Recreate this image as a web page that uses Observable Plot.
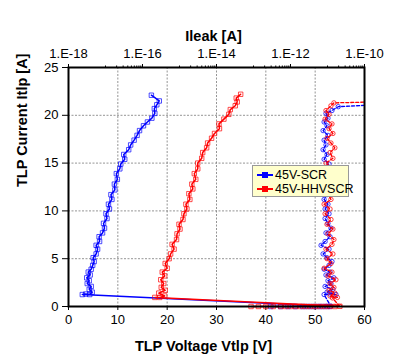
<!DOCTYPE html>
<html>
<head>
<meta charset="utf-8">
<script src="https://cdn.jsdelivr.net/npm/d3@7"></script>
<script src="https://cdn.jsdelivr.net/npm/@observablehq/plot@0.6"></script>
<style>
  html, body { margin: 0; padding: 0; background: #fff; }
  #wrap { position: relative; width: 400px; height: 359px; font-family: Arial, "Liberation Sans", sans-serif; }
  #legend { position: absolute; left: 252px; top: 165px; width: 97px; height: 32px; background: #ffffcc; border: 1px solid #999; box-sizing: border-box; font-size: 12.5px; }
  #legend .row { position: absolute; left: 3px; height: 14px; line-height: 14px; display: flex; align-items: center; white-space: nowrap; }
  #legend svg { margin-right: 1px; flex: none; }
</style>
</head>
<body>
<div id="wrap"></div>
<script>
// ---- data ----
const seriesNames = ["45V-SCR", "45V-HHVSCR"];
const seriesColors = ["#0000ff", "#ff0000"];

// TLP curves: [Vtlp (V), Itlp (A)]
const scrTLP = [
  [41,0],[43,0],[44.5,0],[46,0],[47.5,0],[48.5,0],[49.5,0],[50.5,0],[51.5,0],[52.5,0],[53,0.02],
  [2.8,1.25],[3.5,1.3],[4.3,1.25],[4.8,1.5],[4.2,1.8],[4.6,2.1],[3.8,2.4],[4.2,2.7],[3.7,3.0],
  [4.4,3.3],[4.0,3.6],[4.6,3.9],[4.9,4.3],[5.2,4.7],[5.0,5.1],[5.6,5.5],[5.9,6.0],[5.6,6.4],
  [6.3,6.8],[6.2,7.3],[6.9,7.7],[7.3,8.2],[7.1,8.7],[7.8,9.2],[7.6,9.7],[8.3,10.2],[8.1,10.7],
  [8.8,11.2],[8.6,11.7],[9.4,12.2],[9.3,12.8],[9.9,13.3],[9.7,13.9],[10.4,14.4],[10.6,14.9],
  [11.4,15.4],[11.2,15.9],[12.2,16.4],[12.6,16.9],[13.3,17.4],[13.9,17.9],[14.4,18.4],[15.2,18.9],
  [16.0,19.3],[16.9,19.7],[17.5,20.2],[17.4,20.7],[17.9,21.1],[18.4,21.5],[16.8,22.1]
];
const hhvTLP = [
  [37,0],[38.5,0],[40,0],[41.5,0],[43,0],[44,0],[45,0],[46,0],[47,0],[48,0],[49,0],[50,0],
  [51,0],[52,0],[53,0],[54,0],[55,0.02],
  [17.5,0.95],[18.5,0.95],[19.5,1.1],[18.3,1.4],[19.6,1.7],[18.8,2.0],[19.3,2.4],[18.7,2.8],
  [19.5,3.2],[19.0,3.6],[20.0,4.0],[19.6,4.5],[20.4,5.0],[20.7,5.5],[21.4,6.0],[21.0,6.5],
  [21.9,7.0],[22.0,7.6],[22.6,8.1],[22.4,8.6],[23.2,9.1],[23.4,9.7],[24.0,10.2],[23.8,10.7],
  [24.6,11.2],[24.4,11.8],[25.2,12.3],[25.0,12.8],[25.8,13.3],[25.5,13.9],[26.2,14.4],[26.2,15.0],
  [27.0,15.5],[27.2,16.1],[28.0,16.6],[28.2,17.1],[29.0,17.6],[29.6,18.1],[30.6,18.6],[30.5,19.1],
  [31.5,19.6],[32.5,20.1],[32.8,20.6],[33.8,21.0],[34.2,21.4],[34.0,21.8],[34.9,22.2]
];

// Leakage curves: [Ileak (A), Itlp (A)]
const scrLeak = [
  [6.3e-12,0],[9.4e-12,0],[1.24e-11,0],[8.1e-12,1.25],[1.17e-11,1.3],[1.69e-11,1.25],[9.7e-12,1.5],
  [1.40e-11,1.8],[8.6e-12,2.1],[1.24e-11,2.4],[1.03e-11,2.7],[1.49e-11,3.0],[9.1e-12,3.3],[1.17e-11,3.6],
  [8.1e-12,3.9],[1.10e-11,4.3],[1.32e-11,4.7],[9.7e-12,5.1],[7.6e-12,5.5],[1.10e-11,6.0],[6.7e-12,6.4],
  [8.6e-12,6.8],[1.17e-11,7.3],[9.1e-12,7.7],[1.24e-11,8.2],[1.03e-11,8.7],[8.6e-12,9.2],[1.10e-11,9.7],
  [8.6e-12,10.2],[1.03e-11,10.7],[8.1e-12,11.2],[9.7e-12,11.7],[1.17e-11,12.2],[1.03e-11,12.8],
  [1.32e-11,13.3],[1.10e-11,13.9],[9.1e-12,14.4],[1.10e-11,14.9],[8.1e-12,15.4],[9.7e-12,15.9],
  [7.6e-12,16.4],[9.1e-12,16.9],[8.1e-12,17.4],[1.03e-11,17.9],[7.6e-12,18.4],[9.7e-12,18.9],
  [8.1e-12,19.3],[1.03e-11,19.7],[9.1e-12,20.2],[1.32e-11,20.5],[1.95e-11,20.9],[2e-10,21.1]
];
const hhvLeak = [
  [8.6e-12,0],[1.17e-11,0],[1.58e-11,0],[2.15e-11,0],[1.36e-11,0.9],[1.85e-11,0.95],[1.17e-11,1.1],
  [1.58e-11,1.4],[1.10e-11,1.7],[1.49e-11,2.0],[1.17e-11,2.4],[1.69e-11,2.8],[1.03e-11,3.2],
  [1.32e-11,3.6],[8.1e-12,4.0],[1.24e-11,4.5],[9.7e-12,5.0],[1.40e-11,5.5],[9.1e-12,6.0],[1.32e-11,6.5],
  [1.49e-11,7.0],[1.03e-11,7.6],[1.40e-11,8.1],[9.7e-12,8.6],[1.24e-11,9.1],[8.6e-12,9.7],[1.17e-11,10.2],
  [8.1e-12,10.7],[1.24e-11,11.2],[1.03e-11,11.8],[1.49e-11,12.3],[1.10e-11,12.8],[1.40e-11,13.3],
  [1.03e-11,13.9],[1.32e-11,14.4],[9.1e-12,15.0],[1.40e-11,15.5],[1.17e-11,16.1],[1.58e-11,16.6],
  [1.24e-11,17.1],[9.7e-12,17.6],[1.40e-11,18.1],[1.10e-11,18.6],[1.32e-11,19.1],[8.6e-12,19.6],
  [1.10e-11,20.1],[9.1e-12,20.5],[1.24e-11,21.0],[1.49e-11,21.3],[2e-10,21.4]
];

const xTicks = [0,10,20,30,40,50,60];
const yTicks = [0,5,10,15,20,25];
const topTickValues = [1e-18,1e-16,1e-14,1e-12,1e-10];
const topTickLabels = ["1.E-18","1.E-16","1.E-14","1.E-12","1.E-10"];
const topMinorValues = [];
[1e-17,1e-15,1e-13,1e-11].forEach(b => { for (let j = 1; j <= 9; j++) topMinorValues.push(j*b); });

const xTitle = "TLP Voltage Vtlp [V]";
const yTitle = "TLP Current Itlp [A]";
const topTitle = "Ileak [A]";

// log top axis (1e-18..1e-10) shares the 0..60 range of the bottom axis
const leakToX = v => (Math.log10(v) + 18) * 7.5;

const font = 'Arial, "Liberation Sans", sans-serif';

const chart = Plot.plot({
  width: 400,
  height: 359,
  marginLeft: 68,
  marginRight: 36,
  marginTop: 67,
  marginBottom: 53,
  style: { fontFamily: font, fontSize: "13px", color: "#000", background: "#fff" },
  x: { domain: [0, 60] },
  y: { domain: [0, 25] },
  marks: [
    Plot.gridX(xTicks.slice(1, -1), { stroke: "#7a7a7a", strokeOpacity: 0.8, strokeDasharray: "2,1.5" }),
    Plot.gridY(yTicks.slice(1, -1), { stroke: "#7a7a7a", strokeOpacity: 0.8, strokeDasharray: "2,1.5" }),
    Plot.axisX({ anchor: "bottom", ticks: xTicks, tickSize: 4, tickPadding: 4, label: null, fontSize: 13 }),
    Plot.axisY({ anchor: "left", ticks: yTicks, tickSize: 6, tickPadding: 4, label: null, fontSize: 13 }),
    Plot.axisX({ anchor: "top", ticks: topTickValues.map(leakToX), tickFormat: (d, i) => topTickLabels[i], tickSize: 4, tickPadding: 6, label: null, fontSize: 13 }),
    Plot.axisX({ anchor: "top", ticks: topMinorValues.map(leakToX), tickFormat: () => "", tickSize: 2.5, label: null }),
    // leakage (dashed, circles)
    Plot.line(scrLeak, { x: d => leakToX(d[0]), y: d => d[1], stroke: seriesColors[0], strokeWidth: 1.3, strokeDasharray: "3,2", clip: true }),
    Plot.dot(scrLeak, { x: d => leakToX(d[0]), y: d => d[1], stroke: seriesColors[0], symbol: "circle", r: 2.2, strokeWidth: 1, strokeOpacity: 0.75, clip: true }),
    Plot.line(hhvLeak, { x: d => leakToX(d[0]), y: d => d[1], stroke: seriesColors[1], strokeWidth: 1.3, strokeDasharray: "3,2", clip: true }),
    Plot.dot(hhvLeak, { x: d => leakToX(d[0]), y: d => d[1], stroke: seriesColors[1], symbol: "circle", r: 2.2, strokeWidth: 1, strokeOpacity: 0.75, clip: true }),
    // TLP (solid, squares)
    Plot.line(scrTLP, { x: d => d[0], y: d => d[1], stroke: seriesColors[0], strokeWidth: 1.5 }),
    Plot.dot(scrTLP, { x: d => d[0], y: d => d[1], stroke: seriesColors[0], symbol: "square", r: 2.5, strokeWidth: 1, strokeOpacity: 0.7 }),
    Plot.line(hhvTLP, { x: d => d[0], y: d => d[1], stroke: seriesColors[1], strokeWidth: 1.5 }),
    Plot.dot(hhvTLP, { x: d => d[0], y: d => d[1], stroke: seriesColors[1], symbol: "square", r: 2.5, strokeWidth: 1, strokeOpacity: 0.7 }),
    Plot.frame({ stroke: "#000", strokeWidth: 2 }),
    Plot.text([xTitle], { frameAnchor: "bottom", dx: -13, dy: 44, fontWeight: "bold", fontSize: 14.5 }),
    Plot.text([topTitle], { frameAnchor: "top", dx: -3, dy: -37, fontWeight: "bold", fontSize: 14.5 }),
    Plot.text([yTitle], { frameAnchor: "left", dx: -46, rotate: -90, fontWeight: "bold", fontSize: 14.5 })
  ]
});

const wrap = document.getElementById("wrap");
wrap.appendChild(chart);

// legend overlay
const legend = document.createElement("div");
legend.id = "legend";
seriesNames.forEach((name, i) => {
  const row = document.createElement("div");
  row.className = "row";
  row.style.top = (i === 0 ? 2 : 16) + "px";
  const c = seriesColors[i];
  row.innerHTML = `<svg width="18" height="8"><line x1="1" y1="4" x2="17" y2="4" stroke="${c}" stroke-width="2"/>` +
    `<rect x="6.5" y="1.5" width="5" height="5" fill="${c}" stroke="${c}"/></svg><span>${name}</span>`;
  legend.appendChild(row);
});
wrap.appendChild(legend);
</script>
</body>
</html>
